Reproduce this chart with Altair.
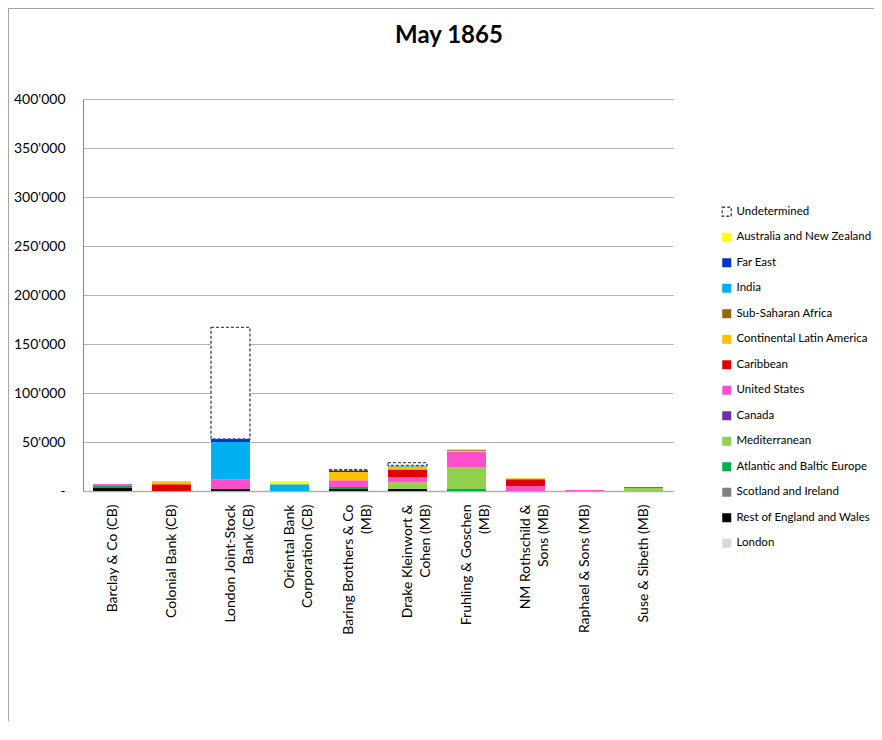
import altair as alt
import pandas as pd

title_text = "May 1865"

banks = [
    "Barclay & Co (CB)",
    "Colonial Bank (CB)",
    "London Joint-Stock\nBank (CB)",
    "Oriental Bank\nCorporation (CB)",
    "Baring Brothers & Co\n(MB)",
    "Drake Kleinwort &\nCohen (MB)",
    "Fruhling & Goschen\n(MB)",
    "NM Rothschild &\nSons (MB)",
    "Raphael & Sons (MB)",
    "Suse & Sibeth (MB)",
]

# stack order: bottom -> top
regions = [
    "London",
    "Rest of England and Wales",
    "Scotland and Ireland",
    "Atlantic and Baltic Europe",
    "Mediterranean",
    "Canada",
    "United States",
    "Caribbean",
    "Continental Latin America",
    "Sub-Saharan Africa",
    "India",
    "Far East",
    "Australia and New Zealand",
    "Undetermined",
]

london        = [0, 0, 0, 0, 0, 0, 0, 0, 0, 0]
rest_england  = [3000, 0, 2000, 0, 2000, 2000, 0, 0, 0, 0]
scotland      = [0, 0, 0, 0, 0, 0, 0, 0, 0, 0]
atlantic      = [2800, 0, 0, 0, 2000, 0, 2000, 0, 0, 0]
mediterranean = [0, 0, 0, 0, 0, 7000, 22000, 0, 0, 3000]
canada        = [0, 0, 0, 0, 0, 0, 0, 0, 0, 0]
united_states = [1300, 0, 10000, 0, 7000, 5000, 16000, 5000, 1000, 0]
caribbean     = [0, 7000, 0, 0, 0, 8000, 0, 7000, 0, 800]
cont_latam    = [0, 3000, 0, 0, 8500, 3000, 1000, 1000, 0, 0]
sub_saharan   = [0, 0, 0, 0, 0, 0, 1000, 0, 0, 0]
india         = [0, 0, 38000, 7000, 0, 1000, 0, 0, 0, 0]
far_east      = [0, 0, 3000, 0, 1500, 0, 0, 0, 0, 0]
australia     = [0, 0, 0, 3000, 0, 0, 0, 0, 0, 0]
undetermined  = [0, 0, 114000, 0, 700, 3000, 0, 0, 0, 0]

series = [london, rest_england, scotland, atlantic, mediterranean, canada,
          united_states, caribbean, cont_latam, sub_saharan, india, far_east,
          australia, undetermined]

colors = {
    "Undetermined": "#ffffff",
    "Australia and New Zealand": "#FFFF00",
    "Far East": "#0033CC",
    "India": "#00B0F0",
    "Sub-Saharan Africa": "#996600",
    "Continental Latin America": "#FFC000",
    "Caribbean": "#E00000",
    "United States": "#FF4FCC",
    "Canada": "#7030A0",
    "Mediterranean": "#92D050",
    "Atlantic and Baltic Europe": "#00B050",
    "Scotland and Ireland": "#808080",
    "Rest of England and Wales": "#000000",
    "London": "#D9D9D9",
}

rows = []
for ri, (reg, vals) in enumerate(zip(regions, series)):
    for bank, v in zip(banks, vals):
        if v > 0:
            rows.append({"bank": bank, "region": reg, "value": v, "ord": ri})
df = pd.DataFrame(rows)

legend_domain = list(reversed(regions))
color_range = [colors[r] for r in legend_domain]
stroke_range = ["#4d4d4d" if r == "Undetermined" else "transparent" for r in legend_domain]
dash_range = [[3, 2] if r == "Undetermined" else [1, 0] for r in legend_domain]

FONT = "Lato"


def legend():
    return alt.Legend(title=None, orient="none", legendX=638, legendY=107,
                      symbolType="square", symbolSize=81,
                      labelFontSize=11.5, labelFont=FONT, labelColor="#000000",
                      rowPadding=9.5, symbolStrokeWidth=1.4, labelOffset=4,
                      labelLimit=300)


bars = alt.Chart(df).mark_bar(strokeWidth=1.4).encode(
    x=alt.X("bank:N", sort=banks,
            scale=alt.Scale(paddingInner=0.34, paddingOuter=0.17),
            axis=alt.Axis(title=None, labelAngle=-90, labelFontSize=14,
                          labelExpr="split(datum.label, '\\n')",
                          labelLineHeight=18, labelPadding=13,
                          ticks=False, domainColor="#b0b0b0", domainWidth=1.5,
                          labelColor="#000000", labelFont=FONT)),
    y=alt.Y("value:Q", stack="zero",
            scale=alt.Scale(domain=[0, 400000], nice=False),
            axis=alt.Axis(title=None, values=[0, 50000, 100000, 150000, 200000,
                                               250000, 300000, 350000, 400000],
                          labelExpr="datum.value == 0 ? '-' : replace(format(datum.value, ','), ',', \"'\")",
                          labelFontSize=14, labelFont=FONT, labelColor="#000000",
                          ticks=False, labelPadding=18, domainColor="#868686",
                          gridColor="#b3b3b3", grid=True)),
    color=alt.Color("region:N",
                    scale=alt.Scale(domain=legend_domain, range=color_range),
                    legend=legend()),
    stroke=alt.Stroke("region:N",
                      scale=alt.Scale(domain=legend_domain, range=stroke_range),
                      legend=legend()),
    strokeDash=alt.StrokeDash("region:N",
                              scale=alt.Scale(domain=legend_domain, range=dash_range),
                              legend=legend()),
    order=alt.Order("ord:Q", sort="ascending"),
)

title_df = pd.DataFrame({"t": [title_text]})
title = alt.Chart(title_df).mark_text(fontSize=24, font=FONT, fontWeight="bold",
                                      align="center", baseline="alphabetic",
                                      color="#000000").encode(
    text="t:N", x=alt.value(366), y=alt.value(-56))

frame_df = pd.DataFrame({"k": [0]})
frame_left = alt.Chart(frame_df).mark_rule(color="#a6a6a6", strokeWidth=1).encode(
    x=alt.value(-74.5), x2=alt.value(-74.5), y=alt.value(-91), y2=alt.value(700))
frame_top = alt.Chart(frame_df).mark_rule(color="#a6a6a6", strokeWidth=1).encode(
    x=alt.value(-75), x2=alt.value(900), y=alt.value(-90.5), y2=alt.value(-90.5))

chart = alt.layer(bars, title, frame_left, frame_top).properties(
    width=590, height=392,
    autosize=alt.AutoSizeParams(type="none"),
    padding={"left": 75, "top": 91, "right": 201, "bottom": 230},
).configure_view(stroke=None)

chart.save("out.html", embed_options={"renderer": "svg", "actions": False})
